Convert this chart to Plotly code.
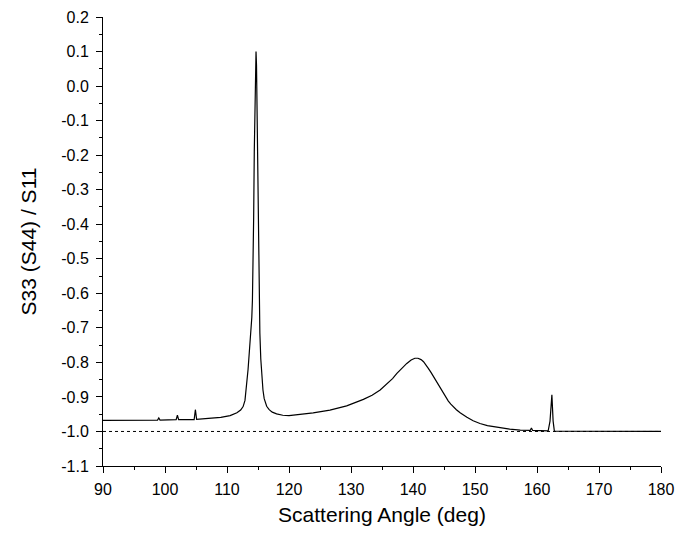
import plotly.graph_objects as go

# Scattering angle (deg) and S33(S44)/S11 values
angle = [90.0, 93.0, 96.0, 98.8, 99.0, 99.2, 101.8, 102.0, 102.2, 104.7, 104.9, 105.1,
         107.0, 109.0, 110.5, 111.6, 112.2, 112.6, 112.9, 113.2, 113.4, 113.6, 113.8,
         114.0, 114.1, 114.2, 114.3, 114.4, 114.5, 114.6, 114.68, 114.76, 114.85, 114.92,
         115.0, 115.1, 115.2, 115.3, 115.45, 115.6, 115.8, 116.0, 116.4, 116.8, 117.3,
         118.0, 119.0, 120.0, 121.2, 123.9, 126.6, 129.3, 132.0, 133.4, 134.7, 136.0,
         136.7, 137.4, 138.2, 139.0, 139.7, 140.3, 140.8, 141.3, 141.7, 142.1, 142.5,
         142.9, 143.3, 143.7, 144.1, 144.5, 144.9, 145.3, 145.7, 146.1, 146.5, 147.0,
         147.6, 148.1, 148.7, 149.7, 150.8, 152.0, 153.5, 155.6, 157.3, 158.9, 159.1,
         159.3, 161.8, 162.1, 162.4, 162.6, 162.8, 170.0, 180.0]
ratio = [-0.968, -0.968, -0.967, -0.967, -0.961, -0.967, -0.966, -0.953, -0.966, -0.966, -0.937, -0.965,
         -0.962, -0.959, -0.954, -0.946, -0.938, -0.928, -0.910, -0.865, -0.82, -0.77, -0.725,
         -0.67, -0.62, -0.52, -0.38, -0.19, -0.04, 0.06, 0.10, 0.06, -0.06, -0.19,
         -0.36, -0.55, -0.66, -0.715, -0.79, -0.84, -0.88, -0.905, -0.927, -0.937, -0.944,
         -0.949, -0.953, -0.954, -0.952, -0.946, -0.938, -0.926, -0.907, -0.895, -0.880, -0.860,
         -0.847, -0.832, -0.817, -0.803, -0.793, -0.788, -0.788, -0.792, -0.798, -0.807, -0.818,
         -0.829, -0.841, -0.854, -0.866, -0.878, -0.890, -0.901, -0.912, -0.921, -0.929, -0.937,
         -0.946, -0.953, -0.959, -0.969, -0.977, -0.983, -0.988, -0.993, -0.996, -0.997, -0.990,
         -0.997, -0.998, -0.970, -0.894, -0.970, -0.999, -1.0, -1.0]

# Reference line
ref_x = [90, 180]
ref_y = [-1.0, -1.0]

x_ticks = [90, 100, 110, 120, 130, 140, 150, 160, 170, 180]
y_ticks = [0.2, 0.1, 0.0, -0.1, -0.2, -0.3, -0.4, -0.5, -0.6, -0.7, -0.8, -0.9, -1.0, -1.1]
y_tick_labels = ["0.2", "0.1", "0.0", "-0.1", "-0.2", "-0.3", "-0.4", "-0.5",
                 "-0.6", "-0.7", "-0.8", "-0.9", "-1.0", "-1.1"]

fig = go.Figure()
fig.add_trace(go.Scatter(x=ref_x, y=ref_y, mode="lines",
                         line=dict(color="black", width=1, dash="dot"),
                         showlegend=False, hoverinfo="skip"))
fig.add_trace(go.Scatter(x=angle, y=ratio, mode="lines",
                         line=dict(color="black", width=1.2),
                         showlegend=False))

font = dict(family="Liberation Sans, Arial, sans-serif", color="black")

fig.update_layout(
    width=680, height=544, autosize=False,
    margin=dict(l=103, r=19, t=17, b=78),
    paper_bgcolor="white", plot_bgcolor="white",
    font=font,
    xaxis=dict(range=[90, 180], tickvals=x_ticks, showgrid=False, zeroline=False,
               showline=True, linecolor="black", linewidth=1,
               ticks="outside", ticklen=6, tickwidth=1, tickcolor="black",
               tickfont=dict(size=16, **font), automargin=False, ticklabelstandoff=3,
               minor=dict(dtick=5, ticks="outside", ticklen=3, tickwidth=1, tickcolor="black"),
               title=dict(text="Scattering Angle (deg)", font=dict(size=21, **font), standoff=10)),
    yaxis=dict(range=[-1.1, 0.2], tickvals=y_ticks, ticktext=y_tick_labels,
               showgrid=False, zeroline=False, automargin=False,
               showline=True, linecolor="black", linewidth=1,
               ticks="outside", ticklen=6, tickwidth=1, tickcolor="black",
               tickfont=dict(size=16, **font), ticklabelstandoff=4,
               minor=dict(tickvals=[0.15 - 0.1 * i for i in range(13)], ticks="outside",
                          ticklen=3, tickwidth=1, tickcolor="black"),
               title=dict(text="S33 (S44) / S11", font=dict(size=21, **font), standoff=18)),
)

fig.write_html("out.html", config={"displayModeBar": False},
               post_script="document.body.style.margin='0px';")
